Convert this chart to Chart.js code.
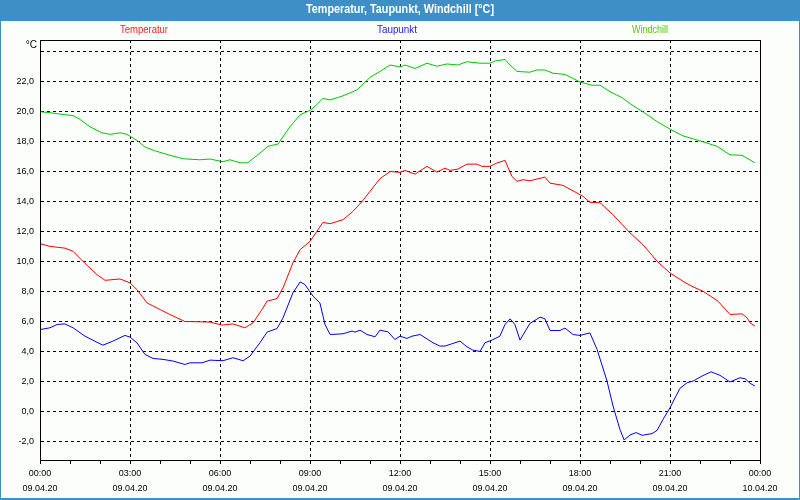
<!DOCTYPE html>
<html>
<head>
<meta charset="utf-8">
<script src="https://cdn.jsdelivr.net/npm/chart.js@4/dist/chart.umd.min.js"></script>
<style>
    body { margin: 0; background: #fff; }
    canvas { display: block; }
</style>
</head>
<body>
<canvas id="weatherChart" width="800" height="500"></canvas>
<script>
// Hours since 09.04.20 00:00 and values in °C
const tempHours = [0.03, 0.33, 0.83, 1.1, 1.43, 1.9, 2.17, 2.67, 3.0, 3.23, 3.57, 3.9, 4.33, 4.83, 5.33, 5.67, 6.07, 6.43, 6.83, 7.1,
    7.4, 7.57, 7.9, 8.1, 8.43, 8.67, 9.0, 9.23, 9.43, 9.67, 10.1, 10.43, 10.73, 11.0, 11.33, 11.67, 12.0, 12.17, 12.5, 12.9,
    13.23, 13.5, 13.67, 13.93, 14.23, 14.57, 14.73, 15.0, 15.23, 15.5, 15.73, 15.9, 16.1, 16.33, 16.83, 17.0, 17.43, 17.9, 18.1, 18.33,
    18.67, 19.1, 19.67, 20.1, 20.57, 21.0, 21.43, 21.77, 22.1, 22.6, 23.0, 23.4, 23.57, 23.67, 23.83];
const tempValues = [11.18, 11.02, 10.9, 10.69, 10.02, 9.13, 8.75, 8.84, 8.58, 8.13, 7.24, 6.9, 6.47, 6.0, 5.98, 5.96, 5.76, 5.84, 5.58, 5.91,
    6.8, 7.36, 7.53, 8.24, 9.91, 10.8, 11.35, 12.02, 12.62, 12.53, 12.8, 13.35, 14.0, 14.69, 15.53, 16.02, 15.96, 16.09, 15.84, 16.36,
    15.98, 16.24, 16.09, 16.18, 16.51, 16.51, 16.36, 16.36, 16.58, 16.76, 15.69, 15.36, 15.47, 15.4, 15.64, 15.24, 15.09, 14.58, 14.36, 13.96,
    13.93, 13.13, 11.91, 11.13, 10.02, 9.24, 8.69, 8.31, 8.02, 7.36, 6.47, 6.51, 6.24, 5.91, 5.69];

const dewHours = [0.03, 0.33, 0.57, 0.83, 1.1, 1.5, 2.0, 2.1, 2.43, 2.83, 3.0, 3.23, 3.5, 3.77, 4.1, 4.43, 4.83, 5.0, 5.4, 5.67,
    6.1, 6.43, 6.77, 7.0, 7.33, 7.57, 7.9, 8.1, 8.43, 8.67, 8.83, 9.1, 9.33, 9.5, 9.67, 10.1, 10.4, 10.5, 10.67, 10.9,
    11.17, 11.33, 11.6, 11.83, 12.0, 12.23, 12.4, 12.67, 13.1, 13.33, 13.5, 13.73, 14.0, 14.23, 14.43, 14.67, 14.83, 15.07, 15.33, 15.5,
    15.67, 15.83, 16.0, 16.33, 16.67, 16.83, 17.0, 17.33, 17.5, 17.77, 18.0, 18.33, 18.57, 18.9, 19.1, 19.33, 19.47, 19.67, 19.87, 20.07,
    20.4, 20.57, 20.77, 21.0, 21.33, 21.57, 21.77, 22.07, 22.37, 22.67, 23.0, 23.33, 23.5, 23.67, 23.83];
const dewValues = [5.47, 5.58, 5.8, 5.84, 5.58, 5.02, 4.51, 4.42, 4.69, 5.07, 4.96, 4.58, 3.8, 3.53, 3.47, 3.36, 3.13, 3.24, 3.24, 3.42,
    3.38, 3.58, 3.38, 3.69, 4.58, 5.29, 5.53, 6.24, 7.91, 8.64, 8.47, 7.69, 7.24, 5.8, 5.13, 5.18, 5.36, 5.29, 5.42, 5.13,
    4.98, 5.42, 5.31, 4.8, 5.02, 4.87, 5.02, 5.13, 4.58, 4.36, 4.36, 4.51, 4.69, 4.31, 4.09, 4.0, 4.58, 4.76, 5.02, 5.8,
    6.18, 5.8, 4.76, 5.87, 6.29, 6.18, 5.4, 5.4, 5.56, 5.13, 5.07, 5.24, 4.13, 2.02, 0.36, -1.2, -1.91, -1.58, -1.42, -1.6,
    -1.49, -1.27, -0.53, 0.24, 1.53, 1.91, 2.02, 2.36, 2.64, 2.4, 1.96, 2.24, 2.18, 1.87, 1.69];

const chillHours = [0.03, 0.33, 0.67, 1.1, 1.33, 1.67, 2.07, 2.33, 2.67, 2.9, 3.23, 3.5, 3.83, 4.33, 4.77, 5.33, 5.67, 6.1, 6.33, 6.67,
    6.93, 7.33, 7.6, 7.93, 8.33, 8.67, 9.03, 9.23, 9.43, 9.67, 10.1, 10.57, 11.0, 11.33, 11.67, 12.0, 12.17, 12.5, 12.9, 13.23,
    13.57, 13.93, 14.23, 14.67, 15.0, 15.17, 15.5, 15.67, 15.9, 16.33, 16.57, 16.83, 17.1, 17.5, 18.0, 18.4, 18.67, 19.0, 19.4, 19.73,
    20.1, 20.57, 21.0, 21.43, 21.77, 22.1, 22.57, 23.0, 23.4, 23.83];
const chillValues = [20.0, 19.95, 19.85, 19.75, 19.5, 19.0, 18.6, 18.5, 18.6, 18.5, 18.1, 17.65, 17.4, 17.1, 16.87, 16.8, 16.85, 16.67, 16.8, 16.6,
    16.6, 17.25, 17.7, 17.85, 19.0, 19.8, 20.13, 20.5, 20.9, 20.8, 21.07, 21.47, 22.3, 22.7, 23.13, 23.0, 23.13, 22.9, 23.25, 23.05,
    23.2, 23.13, 23.35, 23.25, 23.25, 23.4, 23.5, 23.13, 22.7, 22.65, 22.8, 22.8, 22.58, 22.5, 22.0, 21.78, 21.78, 21.35, 20.95, 20.47,
    20.0, 19.35, 18.85, 18.4, 18.2, 18.0, 17.7, 17.13, 17.1, 16.6];

const yTicks = [-2, 0, 2, 4, 6, 8, 10, 12, 14, 16, 18, 20, 22, 24];
const hourLabels = ['00:00', '03:00', '06:00', '09:00', '12:00', '15:00', '18:00', '21:00', '00:00'];
const dateLabels = ['09.04.20', '09.04.20', '09.04.20', '09.04.20', '09.04.20', '09.04.20', '09.04.20', '09.04.20', '10.04.20'];

const titleText = 'Temperatur, Taupunkt, Windchill [°C]';
const seriesNames = ['Temperatur', 'Taupunkt', 'Windchill'];
const seriesColors = ['#ff0000', '#0000ff', '#00c800'];
const legendColors = ['#ff2020', '#2020ff', '#50d000'];

const FONT = '"Liberation Sans", Arial, sans-serif';

function toPoints(hours, values) {
    return hours.map((h, i) => ({ x: h, y: values[i] }));
}

// Background, title bar, legend, unit and frame
const framePlugin = {
    id: 'frame',
    beforeDraw(chart) {
        const ctx = chart.ctx;
        ctx.save();
        ctx.fillStyle = '#fcfefc';
        ctx.fillRect(0, 0, 800, 500);
        ctx.fillStyle = '#3d8fc6';
        ctx.fillRect(0, 0, 800, 21);
        ctx.fillRect(0, 0, 1, 500);
        ctx.fillRect(799, 0, 1, 500);
        ctx.fillRect(0, 498, 800, 2);

        ctx.fillStyle = '#ffffff';
        ctx.font = 'bold 12px ' + FONT;
        ctx.textAlign = 'center';
        ctx.textBaseline = 'middle';
        ctx.fillText(titleText, 400, 10, 188);

        const centers = [144, 397, 650];
        const widths = [48, 40, 36];
        ctx.font = '11px ' + FONT;
        seriesNames.forEach((name, i) => {
            ctx.fillStyle = legendColors[i];
            ctx.fillText(name, centers[i], 30, widths[i]);
        });

        ctx.fillStyle = '#000';
        ctx.textAlign = 'right';
        ctx.font = '10px ' + FONT;
        ctx.fillText('°C', 37, 45);
        ctx.restore();
    },
    afterDraw(chart) {
        const a = chart.chartArea;
        const ctx = chart.ctx;
        ctx.save();
        ctx.strokeStyle = '#000';
        ctx.lineWidth = 1;
        ctx.strokeRect(Math.round(a.left) + 0.5, Math.round(a.top) + 0.5,
            Math.round(a.right - a.left), Math.round(a.bottom - a.top));
        ctx.restore();
    }
};

new Chart(document.getElementById('weatherChart'), {
    type: 'line',
    data: {
        datasets: [
            { label: seriesNames[0], data: toPoints(tempHours, tempValues), borderColor: seriesColors[0] },
            { label: seriesNames[1], data: toPoints(dewHours, dewValues), borderColor: seriesColors[1] },
            { label: seriesNames[2], data: toPoints(chillHours, chillValues), borderColor: seriesColors[2] }
        ]
    },
    options: {
        responsive: false,
        animation: false,
        devicePixelRatio: 1,
        layout: { padding: { top: 40, right: 40, left: 0, bottom: 0 } },
        elements: {
            line: { borderWidth: 1, tension: 0 },
            point: { radius: 0 }
        },
        plugins: {
            legend: { display: false },
            title: { display: false },
            tooltip: { enabled: false }
        },
        scales: {
            x: {
                type: 'linear',
                min: 0,
                max: 24,
                afterFit: scale => { scale.height = 40; },
                ticks: {
                    stepSize: 1,
                    autoSkip: false,
                    maxRotation: 0,
                    padding: 2,
                    color: '#000',
                    font: { family: FONT, size: 9, lineHeight: 1.65 },
                    callback: value => value % 3 === 0 ? [hourLabels[value / 3], dateLabels[value / 3]] : ''
                },
                grid: {
                    color: c => (c.tick && c.tick.value % 3 === 0) ? '#000' : 'rgba(0,0,0,0)',
                    tickColor: '#000',
                    tickLength: 4,
                    lineWidth: 1
                },
                border: { display: true, color: '#000', width: 1, dash: [3, 3] }
            },
            y: {
                type: 'linear',
                min: -3.25,
                max: 24.8,
                afterFit: scale => { scale.width = 40; },
                afterBuildTicks: scale => { scale.ticks = yTicks.map(v => ({ value: v })); },
                ticks: {
                    padding: 6,
                    color: '#000',
                    font: { family: FONT, size: 9 },
                    callback: value => value === 24 ? '' : value.toFixed(1).replace('.', ',')
                },
                grid: {
                    color: '#000',
                    drawTicks: false,
                    lineWidth: 1
                },
                border: { display: true, color: '#000', width: 1, dash: [3, 3] }
            }
        }
    },
    plugins: [framePlugin]
});
</script>
</body>
</html>
